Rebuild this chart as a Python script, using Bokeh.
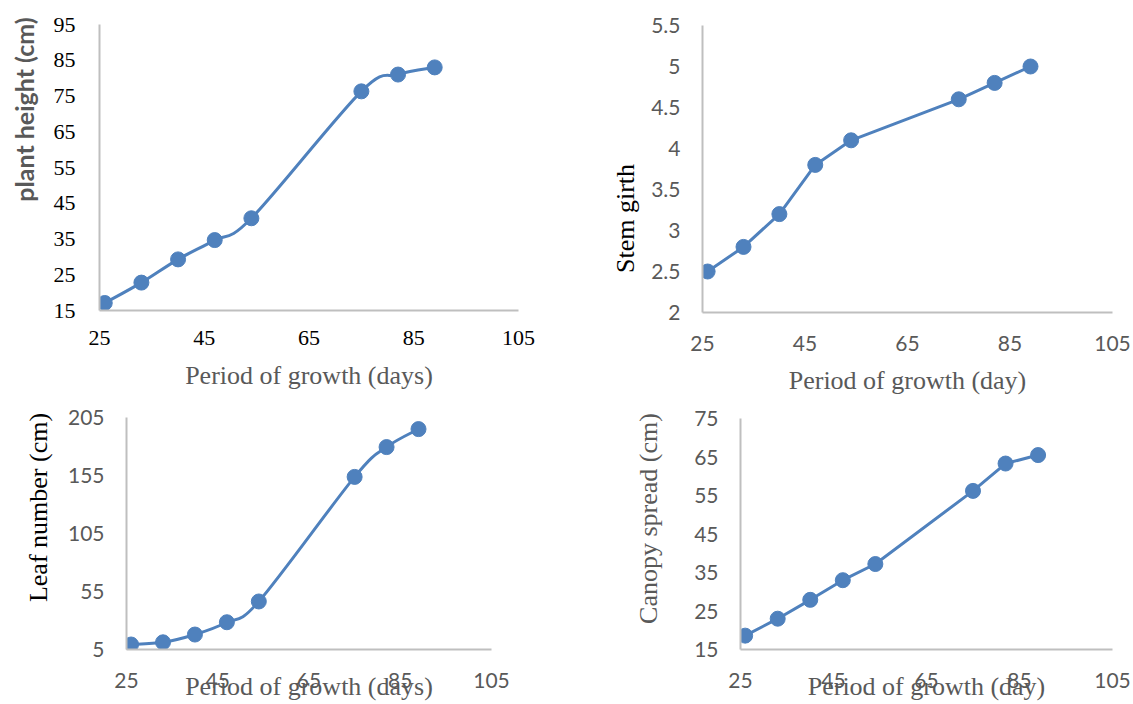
import math
from bokeh.plotting import figure
from bokeh.layouts import row, column
from bokeh.models import Range1d, FixedTicker, Label, CustomJSTickFormatter
from bokeh.embed import file_html
from bokeh.resources import INLINE

# ---------------- data ----------------
days = [26, 33, 40, 47, 54, 75, 82, 89]
plant_height = [17.1, 22.8, 29.3, 34.7, 40.8, 76.3, 81.0, 83.0]
stem_girth = [2.5, 2.8, 3.2, 3.8, 4.1, 4.6, 4.8, 5.0]
leaf_number = [9.3, 11.2, 17.9, 28.5, 46.4, 153.8, 179.5, 195.0]
canopy_spread = [18.6, 23.0, 27.9, 33.0, 37.2, 56.2, 63.3, 65.5]

x_ticks = [25, 45, 65, 85, 105]
height_ticks = [15, 25, 35, 45, 55, 65, 75, 85, 95]
girth_ticks = [2, 2.5, 3, 3.5, 4, 4.5, 5, 5.5]
leaf_ticks = [5, 55, 105, 155, 205]
canopy_ticks = [15, 25, 35, 45, 55, 65, 75]

BLUE = "#4F81BD"
AXIS = "#BFBFBF"
GRAY = "#595959"
SERIF = "Liberation Serif"
SANS = "Lato"

TOP_H = 398
BOT_H = 306


def smooth_segments(xs, ys):
    """Bezier control points (Excel-style smoothed line) built from the data."""
    n = len(xs)
    out = {k: [] for k in ("x0", "y0", "x1", "y1", "cx0", "cy0", "cx1", "cy1")}
    for i in range(n - 1):
        xp, yp = (xs[i - 1], ys[i - 1]) if i > 0 else (xs[i], ys[i])
        xn, yn = (xs[i + 2], ys[i + 2]) if i + 2 < n else (xs[i + 1], ys[i + 1])
        out["x0"].append(xs[i]); out["y0"].append(ys[i])
        out["x1"].append(xs[i + 1]); out["y1"].append(ys[i + 1])
        out["cx0"].append(xs[i] + (xs[i + 1] - xp) / 6.0)
        out["cy0"].append(ys[i] + (ys[i + 1] - yp) / 6.0)
        out["cx1"].append(xs[i + 1] - (xn - xs[i]) / 6.0)
        out["cy1"].append(ys[i + 1] - (yn - ys[i]) / 6.0)
    return out


def panel(width, height, borders, yr, yticks, tick_font, tick_size, tick_color,
          x_standoff, y_standoff, xlabel, xlabel_standoff):
    left, right, top, bottom = borders
    p = figure(width=width, height=height, x_range=Range1d(25, 105),
               y_range=Range1d(*yr), output_backend="svg", toolbar_location=None,
               min_border_left=left, min_border_right=right,
               min_border_top=top, min_border_bottom=bottom)
    p.frame_align = False
    p.grid.visible = False
    p.outline_line_color = None
    p.background_fill_color = "white"
    p.border_fill_color = "white"
    for ax in (p.xaxis[0], p.yaxis[0]):
        ax.axis_line_color = AXIS
        ax.axis_line_width = 2
        ax.major_tick_out = 0
        ax.major_tick_in = 0
        ax.minor_tick_out = 0
        ax.minor_tick_in = 0
        ax.major_label_text_font = tick_font
        ax.major_label_text_font_size = f"{tick_size}px"
        ax.major_label_text_color = tick_color
    xa = p.xaxis[0]
    xa.ticker = FixedTicker(ticks=x_ticks)
    xa.major_label_standoff = x_standoff
    xa.axis_label = xlabel
    xa.axis_label_standoff = xlabel_standoff
    xa.axis_label_text_font = SERIF
    xa.axis_label_text_font_size = "26px"
    xa.axis_label_text_font_style = "normal"
    xa.axis_label_text_color = GRAY
    p.yaxis[0].ticker = FixedTicker(ticks=yticks)
    p.yaxis[0].major_label_standoff = y_standoff
    return p


def label_strip(width, height, text, cx, cy, font, size, color, bold=False):
    """Narrow figure holding a rotated y-axis title (cx, cy from its top-left)."""
    f = figure(width=width, height=height, x_range=Range1d(0, 1), y_range=Range1d(0, 1),
               x_axis_type=None, y_axis_type=None, output_backend="svg",
               toolbar_location=None, min_border=0, min_border_left=0,
               min_border_right=0, min_border_top=0, min_border_bottom=0)
    f.frame_align = False
    f.outline_line_color = None
    f.grid.visible = False
    f.add_layout(Label(x=cx, y=height - cy, x_units="screen", y_units="screen",
                       text=text, angle=math.pi / 2, text_align="center",
                       text_baseline="middle", text_font=font,
                       text_font_size=f"{size}px", text_color=color,
                       text_font_style="bold" if bold else "normal"))
    return f


def draw(p, ys, smooth):
    if smooth:
        seg = smooth_segments(days, ys)
        p.bezier(x0=seg["x0"], y0=seg["y0"], x1=seg["x1"], y1=seg["y1"],
                 cx0=seg["cx0"], cy0=seg["cy0"], cx1=seg["cx1"], cy1=seg["cy1"],
                 line_color=BLUE, line_width=3)
    else:
        p.line(days, ys, line_color=BLUE, line_width=3)
    p.scatter(days, ys, size=15, fill_color=BLUE, line_color=BLUE)


# Top-left: plant height (page x 44..560)
L1 = label_strip(44, TOP_H, "plant height (cm)", 23, 109, SANS, 25, GRAY, bold=True)
p1 = panel(516, TOP_H, (55, 42, 24, TOP_H - 310), (15, 95), height_ticks, SERIF, 22,
           "black", 20, 24, "Period of growth (days)", 13)
draw(p1, plant_height, True)

# Top-right: stem girth (page x 645..1133)
L2 = label_strip(85, TOP_H, "Stem girth", 65, 218, SERIF, 26, "black")
p2 = panel(488, TOP_H, (57, 21, 25, TOP_H - 312), (2, 5.5), girth_ticks, SANS, 21,
           GRAY, 23, 22, "Period of growth (day)", 12)
p2.yaxis[0].formatter = CustomJSTickFormatter(code="return String(tick);")
draw(p2, stem_girth, False)

# Bottom-left: leaf number (page x 64..560)
L3 = label_strip(64, BOT_H, "Leaf number (cm)", 38, 507 - TOP_H, SERIF, 26, "black")
p3 = panel(496, BOT_H, (60, 69, 417 - TOP_H, 704 - 649), (5, 205), leaf_ticks, SANS, 21,
           GRAY, 23, 22, "Period of growth (days)", -19)
draw(p3, leaf_number, True)

# Bottom-right: canopy spread (page x 675..1133)
L4 = label_strip(115, BOT_H, "Canopy spread (cm)", 88, 518 - TOP_H, SERIF, 26, GRAY)
p4 = panel(458, BOT_H, (65, 21, 418 - TOP_H, 704 - 649), (15, 75), canopy_ticks, SANS, 21,
           GRAY, 23, 22, "Period of growth (day)", -19)
draw(p4, canopy_spread, False)

layout = column(row(L1, p1, L2, p2), row(L3, p3, L4, p4))

open("out.html", "w").write(file_html(layout, INLINE))
